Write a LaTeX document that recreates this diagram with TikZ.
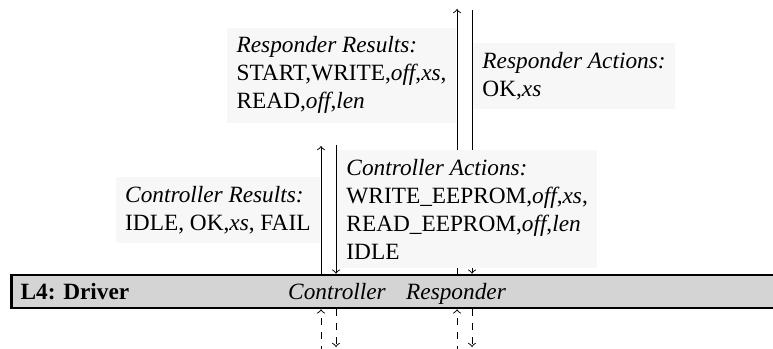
\documentclass[tikz,border=0pt]{standalone}
\usepackage{fontspec}
\setmainfont{Liberation Serif}
\usepackage{tikz}

\begin{document}
\begin{tikzpicture}[x=0.4292pt, y=-0.4292pt,
      msgbox/.style={fill=black!3, align=left, inner xsep=4pt, inner ysep=3.9pt, outer xsep=0.5pt}]
      \useasboundingbox (0,0) rectangle (773,349);
      \node[name=driver, anchor=west, draw, line width=1.1pt, fill=black!17, minimum height=14.2pt, text width=337pt, inner xsep=4pt, align=left] at (10,291.5) {\textbf{L4:\ Driver}};
      \node[name=ctrl, anchor=base, font=\itshape] at (337,299) {Controller};
      \node[name=resp, anchor=base, font=\itshape] at (456,299) {Responder};
      \coordinate (cup) at (321,146);
      \coordinate (cdown) at (336,145);
      \coordinate (rup) at (457,9);
      \coordinate (rdown) at (472,10);
      \coordinate (cupin) at (321,353);
      \coordinate (cdownout) at (336,347);
      \coordinate (rupin) at (457,353);
      \coordinate (rdownout) at (472,347);
      \draw[->] (driver.north -| rup) -- node[msgbox, pos=0.75, anchor=east]{\textit{Responder Results:}\\START,WRITE,\textit{off},\textit{xs},\\READ,\textit{off},\textit{len}} (rup);
      \draw[->] (rdown) -- node[msgbox, pos=0.25, anchor=west]{\textit{Responder Actions:}\\OK,\textit{xs}} (driver.north -| rdown);
      \draw[->] (driver.north -| cup) -- node[msgbox, anchor=east]{\textit{Controller Results:}\\IDLE, OK,\textit{xs}, FAIL} (cup);
      \draw[->] (cdown) -- node[msgbox, anchor=west]{\textit{Controller Actions:}\\WRITE\_EEPROM,\textit{off},\textit{xs},\\READ\_EEPROM,\textit{off},\textit{len}\\IDLE} (driver.north -| cdown);
      \draw[->, dashed] (cupin) -- (driver.south -| cupin);
      \draw[->, dashed] (driver.south -| cdownout) -- (cdownout);
      \draw[->, dashed] (rupin) -- (driver.south -| rupin);
      \draw[->, dashed] (driver.south -| rdownout) -- (rdownout);
   \end{tikzpicture}
\end{document}
